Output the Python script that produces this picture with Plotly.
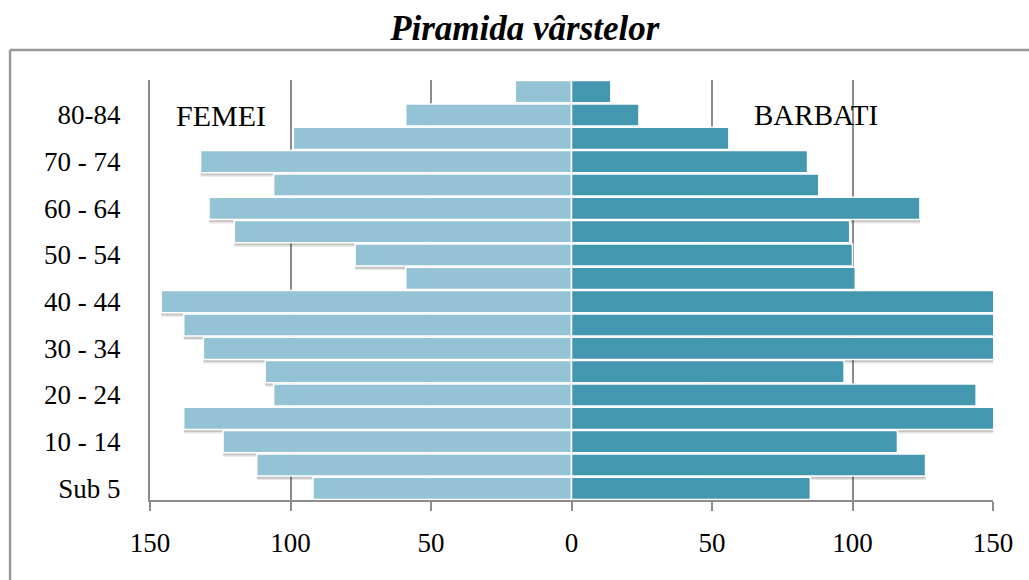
import plotly.graph_objects as go

age_groups = ["Sub 5", "5 - 9", "10 - 14", "15 - 19", "20 - 24", "25 - 29",
              "30 - 34", "35 - 39", "40 - 44", "45 - 49", "50 - 54", "55 - 59",
              "60 - 64", "65 - 69", "70 - 74", "75 - 79", "80-84", "85+"]
femei = [92, 112, 124, 138, 106, 109, 131, 138, 146, 59, 77, 120, 129, 106, 132, 99, 59, 20]
barbati = [85, 126, 116, 158, 144, 97, 165, 170, 160, 101, 100, 99, 124, 88, 84, 56, 24, 14]

x_ticks = [-150, -100, -50, 0, 50, 100, 150]
x_tick_text = ["150", "100", "50", "0", "50", "100", "150"]
y_tick_labels = ["Sub 5", "10 - 14", "20 - 24", "30 - 34", "40 - 44",
                 "50 - 54", "60 - 64", "70 - 74", "80-84"]

color_f = "#93C3D5"
color_m = "#4398B0"
grid = "#8C8C8C"
serif = "Liberation Serif, Times New Roman, serif"

BAR_W = 0.95

fig = go.Figure()
# soft drop shadows beneath the bars (two layers to imitate blur)
for shift, alpha in ((0.17, 0.10), (0.11, 0.14)):
    for vals in ([-v for v in femei], barbati):
        fig.add_trace(go.Bar(
            y=age_groups, x=vals, orientation="h", width=BAR_W,
            offset=-BAR_W / 2 - shift,
            marker=dict(color=f"rgba(0,0,0,{alpha})", line=dict(width=0)),
            hoverinfo="skip", showlegend=False,
        ))
fig.add_trace(go.Bar(
    y=age_groups, x=[-v for v in femei], orientation="h", name="FEMEI",
    width=BAR_W,
    marker=dict(color=color_f, line=dict(color="white", width=1.5)),
    customdata=femei, hovertemplate="%{y}: %{customdata}<extra>FEMEI</extra>",
))
fig.add_trace(go.Bar(
    y=age_groups, x=barbati, orientation="h", name="BARBATI",
    width=BAR_W,
    marker=dict(color=color_m, line=dict(color="white", width=1.5)),
    hovertemplate="%{y}: %{x}<extra>BARBATI</extra>",
))

fig.update_layout(
    width=1029, height=580,
    margin=dict(l=150, r=36, t=80, b=80),
    paper_bgcolor="white", plot_bgcolor="white",
    barmode="overlay",
    showlegend=False,
    font=dict(family=serif, size=27, color="black"),
    title=dict(
        text="<b><i>Piramida vârstelor</i></b>",
        x=0.51, xanchor="center", xref="container",
        y=0.952, yanchor="middle", yref="container",
        font=dict(family=serif, size=35, color="black"),
    ),
    xaxis=dict(
        range=[-150, 150], tickvals=x_ticks, ticktext=x_tick_text,
        showgrid=True, gridcolor=grid, gridwidth=2,
        zeroline=False,
        showline=True, linecolor=grid, linewidth=2,
        ticks="outside", ticklen=9, tickwidth=2, tickcolor=grid,
        ticklabelstandoff=9,
        tickfont=dict(family=serif, size=27, color="black"),
        fixedrange=True,
    ),
    yaxis=dict(
        type="category", categoryorder="array", categoryarray=age_groups,
        range=[-0.5, len(age_groups) - 0.5],
        tickvals=y_tick_labels, ticktext=y_tick_labels,
        showgrid=False, zeroline=False,
        showline=True, linecolor=grid, linewidth=2,
        ticks="", ticklabelstandoff=22,
        tickfont=dict(family=serif, size=27, color="black"),
        fixedrange=True,
    ),
    annotations=[
        dict(text="FEMEI", x=-124.6, y="80-84", xref="x", yref="y",
             showarrow=False, font=dict(family=serif, size=30, color="black")),
        dict(text="BARBATI", x=87, y="80-84", xref="x", yref="y",
             showarrow=False, font=dict(family=serif, size=29, color="black")),
    ],
    shapes=[
        dict(type="line", xref="paper", yref="paper",
             x0=-0.166, x1=1.05, y0=1.0714, y1=1.0714,
             line=dict(color="#999999", width=2.5)),
        dict(type="line", xref="paper", yref="paper",
             x0=-0.166, x1=-0.166, y0=1.0714, y1=-0.25,
             line=dict(color="#999999", width=2.5)),
    ],
)

fig.write_html("out.html", config={"displayModeBar": False},
               post_script="document.body.style.margin='0';")
